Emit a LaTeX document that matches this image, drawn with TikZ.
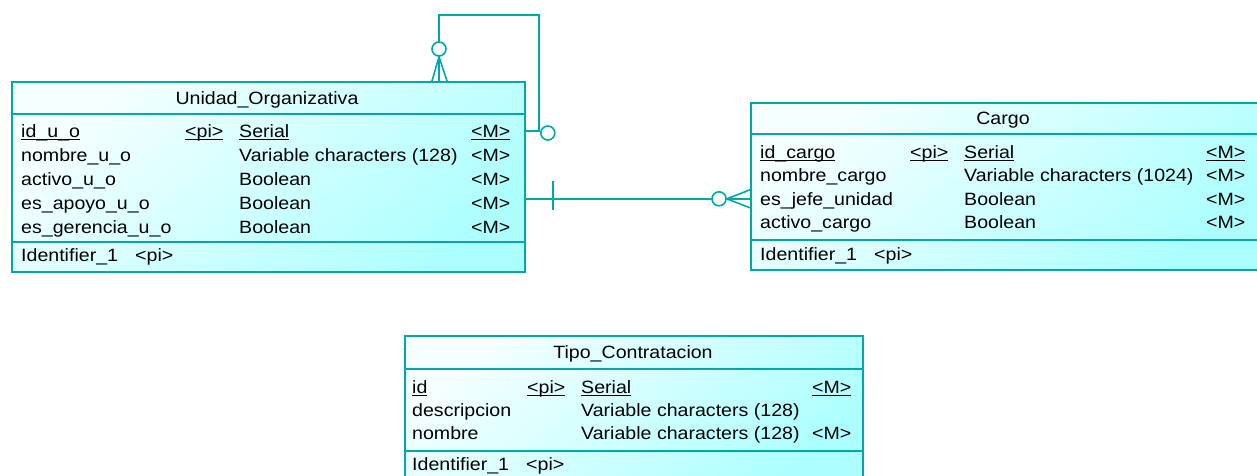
\documentclass[tikz,border=0pt]{standalone}
\usepackage{fontspec}
\setmainfont[FakeStretch=1.1]{Liberation Sans}
\usetikzlibrary{positioning,calc}
\definecolor{erline}{RGB}{0,168,168}
\newcommand{\keyul}[1]{\setbox0\hbox{#1}\rlap{\rule[-3pt]{\wd0}{1.2pt}}\box0}

\begin{document}
\begin{tikzpicture}[x=1pt, y=-1pt, font=\fontsize{17.8}{21}\selectfont,
    entity/.style={draw=erline, line width=1.8pt, top color=cyan!4, bottom color=cyan!32, shading angle=40, anchor=north west, inner sep=0pt},
    split/.style={draw=erline, line width=1.8pt},
    attr/.style={anchor=west, inner sep=0pt, text height=12.6pt, text depth=0pt},
    rel/.style={draw=erline, line width=1.6pt},
    ring/.style={draw=erline, line width=1.6pt, fill=white, circle, inner sep=0pt, minimum size=14pt}]
    \useasboundingbox (0,0) rectangle (1257,475);

    % Unidad_Organizativa
    \node[entity, minimum width=513pt, minimum height=190pt] (uo) at (11,81) {};
    \draw[split] ([yshift=-33pt]uo.north west) -- ([yshift=-33pt]uo.north east);
    \draw[split] ([yshift=31pt]uo.south west) -- ([yshift=31pt]uo.south east);
    \node[attr, anchor=center] (uo-t) at (267,98) {Unidad\_Organizativa};
    \node[attr] (uo-id) at (21,131) {\keyul{id\_u\_o}};
    \node[attr] (uo-pi) at (185,131) {\keyul{<pi>}};
    \node[attr] (uo-ty) at (239,131) {\keyul{Serial}};
    \node[attr] (uo-m) at (471,131) {\keyul{<M>}};
    \foreach \n/\t [count=\i] in {nombre\_u\_o/{Variable characters (128)}, activo\_u\_o/Boolean,
        es\_apoyo\_u\_o/Boolean, es\_gerencia\_u\_o/Boolean} {
      \node[attr] (uo-\i) at (21,{131+24*\i}) {\n};
      \node[attr] at (239,{131+24*\i}) {\t};
      \node[attr] at (471,{131+24*\i}) {<M>};
    }
    \node[attr] (uo-key) at (21,255) {Identifier\_1};
    \node[attr] at (135,255) {<pi>};

    % Cargo
    \node[entity, minimum width=509pt, minimum height=167pt] (cg) at (750,102) {};
    \draw[split] ([yshift=-32pt]cg.north west) -- ([yshift=-32pt]cg.north east);
    \draw[split] ([yshift=31pt]cg.south west) -- ([yshift=31pt]cg.south east);
    \node[attr, anchor=center] (cg-t) at (1003,118) {Cargo};
    \node[attr] (cg-id) at (760,152) {\keyul{id\_cargo}};
    \node[attr] (cg-pi) at (910,152) {\keyul{<pi>}};
    \node[attr] (cg-ty) at (964,152) {\keyul{Serial}};
    \node[attr] (cg-m) at (1206,152) {\keyul{<M>}};
    \foreach \n/\t [count=\i] in {nombre\_cargo/{Variable characters (1024)},
        es\_jefe\_unidad/Boolean, activo\_cargo/Boolean} {
      \node[attr] (cg-\i) at (760,{152+23.4*\i}) {\n};
      \node[attr] at (964,{152+23.4*\i}) {\t};
      \node[attr] at (1206,{152+23.4*\i}) {<M>};
    }
    \node[attr] (cg-key) at (760,254) {Identifier\_1};
    \node[attr] at (874,254) {<pi>};

    % Tipo_Contratacion
    \node[entity, minimum width=458pt, minimum height=145pt] (tc) at (404,335) {};
    \draw[split] ([yshift=-34pt]tc.north west) -- ([yshift=-34pt]tc.north east);
    \draw[split] ([yshift=31pt]tc.south west) -- ([yshift=31pt]tc.south east);
    \node[attr, anchor=center] (tc-t) at (633,352) {Tipo\_Contratacion};
    \node[attr] (tc-id) at (412,387) {\keyul{id}};
    \node[attr] (tc-pi) at (527,387) {\keyul{<pi>}};
    \node[attr] (tc-ty) at (581,387) {\keyul{Serial}};
    \node[attr] (tc-m) at (812,387) {\keyul{<M>}};
    \node[attr] (tc-1) at (412,410) {descripcion};
    \node[attr] at (581,410) {Variable characters (128)};
    \node[attr] (tc-2) at (412,433) {nombre};
    \node[attr] at (581,433) {Variable characters (128)};
    \node[attr] at (812,433) {<M>};
    \node[attr] (tc-key) at (412,464) {Identifier\_1};
    \node[attr] at (526,464) {<pi>};

    % self relation
    \coordinate (uo-loop) at (539,15);
    \coordinate (uo-many) at (439,49);
    \draw[rel] (uo.east |- uo-id) -| (uo-loop) -| (uo.north -| uo-many);
    \node[ring] (uo-one) at ($(uo.east |- uo-id)+(22,2)$) {};
    \node[ring] (uo-zero) at (uo-many) {};
    \draw[rel] ($(uo.north -| uo-zero)+(-7,0)$) -- (uo-zero.south) -- ($(uo.north -| uo-zero)+(8,0)$);

    % Unidad_Organizativa - Cargo
    \draw[rel] (uo.east |- cg-2) -- (cg.west |- cg-2);
    \draw[rel] ($(uo.east |- cg-2)+(27,-18)$) -- ++(0,29);
    \node[ring] (cg-zero) at ($(cg.west |- cg-2)+(-31,0)$) {};
    \draw[rel] ($(cg.west |- cg-2)+(0,-9)$) -- (cg-zero.east) -- ($(cg.west |- cg-2)+(0,9)$);
\end{tikzpicture}
\end{document}
